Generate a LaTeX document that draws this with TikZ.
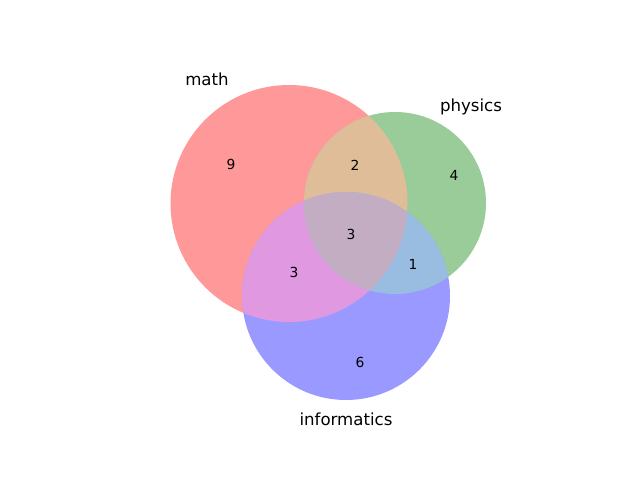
\documentclass[tikz,border=0pt]{standalone}
\usepackage{fontspec}
\setmainfont{DejaVu Sans}
\definecolor{cA}{RGB}{255,153,153}
\definecolor{cB}{RGB}{153,204,153}
\definecolor{cC}{RGB}{153,153,255}
\definecolor{cAB}{RGB}{224,189,153}
\definecolor{cAC}{RGB}{224,153,224}
\definecolor{cBC}{RGB}{153,189,224}
\definecolor{cABC}{RGB}{194,173,194}
\tikzset{
  setlabel/.style={font=\fontsize{12}{14}\selectfont, inner sep=0pt},
  numlabel/.style={font=\fontsize{10}{12}\selectfont, inner sep=0pt}
}
\begin{document}
\begin{tikzpicture}[x=0.01in,y=-0.01in]
\useasboundingbox (0,0) rectangle (640,480);
\def\cA{(289,203.5) circle (118.5)}
\def\cB{(395,203) circle (91)}
\def\cC{(346,296) circle (104)}
\fill[cA] \cA;
\fill[cB] \cB;
\fill[cC] \cC;
\begin{scope}\clip \cA; \fill[cAB] \cB; \end{scope}
\begin{scope}\clip \cA; \fill[cAC] \cC; \end{scope}
\begin{scope}\clip \cB; \fill[cBC] \cC; \end{scope}
\begin{scope}\clip \cA; \clip \cB; \fill[cABC] \cC; \end{scope}
\node[setlabel] (math) at (207,79) {math};
\node[setlabel] (physics) at (471,106.5) {physics};
\node[setlabel] (informatics) at (346,419) {informatics};
\node[numlabel] (n100) at (231,164) {9};
\node[numlabel] (n110) at (355,165) {2};
\node[numlabel] (n010) at (454,175) {4};
\node[numlabel] (n111) at (351,234) {3};
\node[numlabel] (n101) at (294,272) {3};
\node[numlabel] (n011) at (413,264) {1};
\node[numlabel] (n001) at (360,362) {6};
\end{tikzpicture}
\end{document}
